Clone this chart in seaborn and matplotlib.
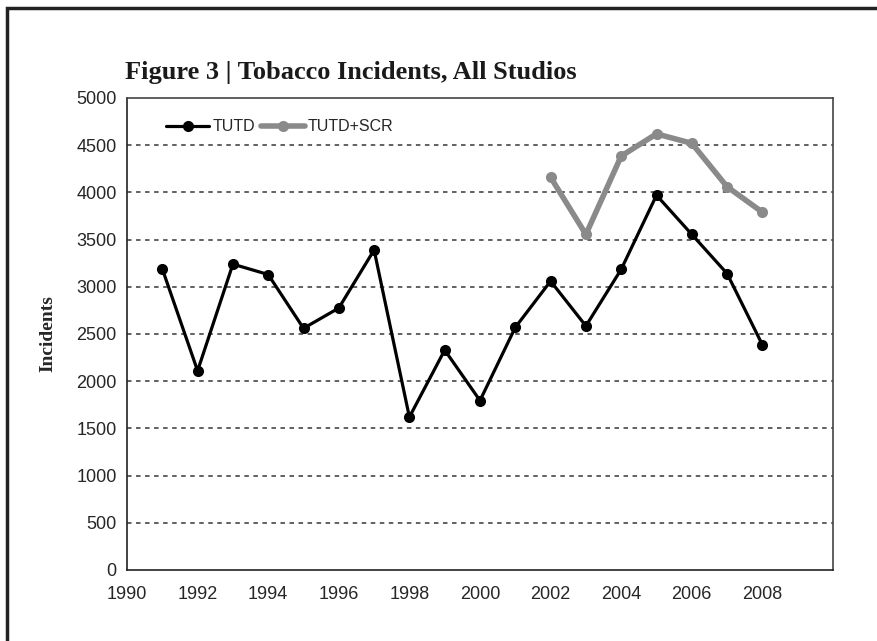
import matplotlib
matplotlib.use("Agg")
import matplotlib.pyplot as plt
import seaborn as sns
import pandas as pd
from matplotlib.patches import Rectangle
from matplotlib.lines import Line2D

years_tutd = [1991, 1992, 1993, 1994, 1995, 1996, 1997, 1998, 1999, 2000,
              2001, 2002, 2003, 2004, 2005, 2006, 2007, 2008]
tutd = [3190, 2110, 3240, 3130, 2560, 2775, 3390, 1620, 2330, 1795,
        2570, 3060, 2585, 3185, 3970, 3555, 3140, 2385]
years_scr = [2002, 2003, 2004, 2005, 2006, 2007, 2008]
tutd_scr = [4160, 3555, 4385, 4620, 4520, 4060, 3790]
xticks = list(range(1990, 2011, 2))
xtick_labels = [str(y) for y in range(1990, 2009, 2)] + [""]
yticks = list(range(0, 5001, 500))

df = pd.concat([
    pd.DataFrame({"Year": years_tutd, "Incidents": tutd, "Series": "TUTD"}),
    pd.DataFrame({"Year": years_scr, "Incidents": tutd_scr, "Series": "TUTD+SCR"}),
])

sns.set_style("white")
fig = plt.figure(figsize=(8.77, 6.41), dpi=100)
ax = fig.add_axes([127/877, 71/641, 706/877, 472/641])

colors = {"TUTD": "#000000", "TUTD+SCR": "#8a8a8a"}
widths = {"TUTD": 2.3, "TUTD+SCR": 4.0}
for name in ["TUTD+SCR", "TUTD"]:
    sub = df[df["Series"] == name]
    sns.lineplot(data=sub, x="Year", y="Incidents", ax=ax, color=colors[name],
                 linewidth=widths[name], marker="o", markersize=8,
                 markeredgewidth=0, legend=False, zorder=3)

ax.set_xlim(1990, 2010)
ax.set_ylim(0, 5000)
ax.set_xticks(xticks)
ax.set_xticklabels(xtick_labels)
ax.set_yticks(yticks)
for v in yticks[1:-1]:
    ax.axhline(v, color="#555555", linestyle=(0, (2.5, 2.5)), linewidth=1.3, zorder=1)

for s in ax.spines.values():
    s.set_visible(True)
    s.set_color("#222222")
    s.set_linewidth(1.2)
ax.spines["top"].set_color("#444444")
ax.spines["right"].set_color("#444444")
ax.tick_params(axis="both", direction="inout", length=7, width=1.2, color="#222222",
               labelsize=13, pad=4)
ax.tick_params(axis="x", pad=8)
for lab in ax.get_xticklabels() + ax.get_yticklabels():
    lab.set_family("Liberation Sans")

ax.set_xlabel("")
ax.set_ylabel("Incidents", family="Liberation Serif", fontweight="bold", fontsize=14, labelpad=14)

handles = [Line2D([], [], color=colors["TUTD"], lw=2.3, marker="o", markersize=8, markeredgewidth=0),
           Line2D([], [], color=colors["TUTD+SCR"], lw=4.0, marker="o", markersize=8, markeredgewidth=0)]
leg = ax.legend(handles, ["TUTD", "TUTD+SCR"], loc="upper left", bbox_to_anchor=(0.035, 0.985),
                ncol=2, frameon=False, handlelength=2.7, handletextpad=0.2, columnspacing=0.4,
                prop={"family": "Liberation Sans", "size": 11.5})

fig.text(125/877, 1 - 72/641, "Figure 3 | Tobacco Incidents, All Studios",
         family="Liberation Serif", fontweight="bold", fontsize=19, va="center", ha="left",
         color="#1a1a1a")

fig.patches.append(Rectangle((7/877, -0.05), 1.0, 1 - 8/641 + 0.05, transform=fig.transFigure,
                             fill=False, edgecolor="#222222", linewidth=2.5))

fig.savefig("out.png", dpi=100)
